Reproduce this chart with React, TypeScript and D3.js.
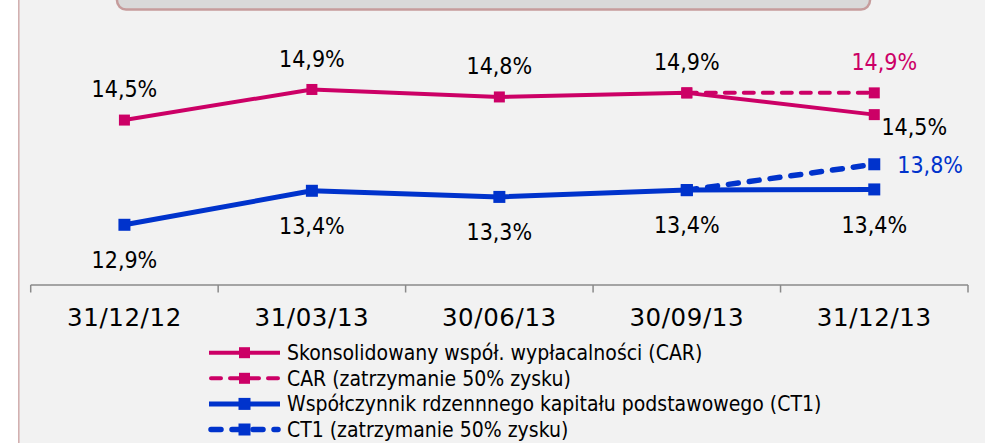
import React from 'react';
import * as d3 from 'd3';

const categories = ['31/12/12', '31/03/13', '30/06/13', '30/09/13', '31/12/13'];
const carValues: (number | null)[] = [14.46, 14.91, 14.8, 14.86, 14.54];
const carRetained: (number | null)[] = [null, null, null, 14.86, 14.86];
const ct1Values: (number | null)[] = [12.92, 13.42, 13.33, 13.43, 13.44];
const ct1Retained: (number | null)[] = [null, null, null, 13.43, 13.81];
const legendLabels = [
  'Skonsolidowany współ. wypłacalności (CAR)',
  'CAR (zatrzymanie 50% zysku)',
  'Współczynnik rdzennnego kapitału podstawowego (CT1)',
  'CT1 (zatrzymanie 50% zysku)',
];
const yDomain = [12, 16];

const W = 985;
const H = 443;
const PINK = '#cc0066';
const BLUE = '#0033cc';
const LABEL_FONT = "'DejaVu Sans Condensed', 'DejaVu Sans', sans-serif";
const AXIS_FONT = "'DejaVu Sans', sans-serif";

type Series = {
  values: (number | null)[];
  color: string;
  width: number;
  dash?: string;
  marker: number;
};

export default function App() {
  const x = d3.scaleBand<string>().domain(categories).range([30.7, 968]);
  const cx = (i: number) => (x(categories[i]) as number) + x.bandwidth() / 2;
  const y = d3.scaleLinear().domain(yDomain).range([287.35, 15.35]);
  const fmt = (v: number) => d3.format('.1f')(v).replace('.', ',') + '%';

  const series: Series[] = [
    { values: carValues, color: PINK, width: 4, marker: 11 },
    { values: carRetained, color: PINK, width: 4, dash: '10,9', marker: 11 },
    { values: ct1Values, color: BLUE, width: 5, marker: 12 },
    { values: ct1Retained, color: BLUE, width: 5.5, dash: '10,11', marker: 12 },
  ];

  const lineFor = (vals: (number | null)[]) =>
    d3
      .line<number | null>()
      .defined((d) => d != null)
      .x((_d, i) => cx(i))
      .y((d) => y(d as number))(vals) || '';

  const axisY = 285;
  const [r0, r1] = x.range();
  const tickXs = d3.range(categories.length + 1).map((i) => r0 + i * x.bandwidth());

  const legendY0 = 352.7;
  const legendStep = 25.6;
  const legendX0 = 209;
  const legendX1 = 280;

  const last = categories.length - 1;

  return (
    <svg
      width={W}
      height={H}
      style={{ position: 'absolute', left: 0, top: 0, display: 'block' }}
    >
      <rect x={0} y={0} width={W} height={H} fill="#ffffff" />
      <rect x={19} y={0} width={W - 19} height={H} fill="#f2f2f2" />
      <line x1={18.8} x2={18.8} y1={0} y2={H} stroke="#d2b0b0" strokeWidth={1.6} />

      {/* top title box (cropped) */}
      <rect x={117} y={-14} width={753} height={23.5} rx={9} fill="#d9d9d9" stroke="#c69c9c" strokeWidth={2.5} />

      {/* axis */}
      <line x1={r0} x2={r1} y1={axisY} y2={axisY} stroke="#8a8a8a" strokeWidth={1.5} />
      {tickXs.map((tx, i) => (
        <line key={i} x1={tx} x2={tx} y1={axisY} y2={axisY + 7.5} stroke="#8a8a8a" strokeWidth={1.5} />
      ))}
      {categories.map((c, i) => (
        <text
          key={c}
          x={cx(i)}
          y={317.5}
          dy="0.36em"
          textAnchor="middle"
          fontFamily={AXIS_FONT}
          fontSize={24.5}
          letterSpacing={0.6}
          fill="#000"
        >
          {c}
        </text>
      ))}

      {/* lines */}
      {series.map((s, si) => (
        <g key={si}>
          <path
            d={lineFor(s.values)}
            fill="none"
            stroke={s.color}
            strokeWidth={s.width}
            strokeDasharray={s.dash}
            strokeLinecap={s.dash ? 'round' : 'butt'}
            strokeLinejoin="round"
          />
          {s.values.map((v, i) =>
            v == null ? null : (
              <rect
                key={i}
                x={cx(i) - s.marker / 2}
                y={y(v) - s.marker / 2}
                width={s.marker}
                height={s.marker}
                fill={s.color}
              />
            )
          )}
        </g>
      ))}

      {/* data labels */}
      {carValues.map((v, i) =>
        v == null ? null : i === last ? (
          <text key={'c' + i} x={cx(i) + 40} y={y(v) + 12} dy="0.36em" textAnchor="middle"
            fontFamily={LABEL_FONT} fontSize={23} fill="#000">{fmt(v)}</text>
        ) : (
          <text key={'c' + i} x={cx(i)} y={y(v) - 31} dy="0.36em" textAnchor="middle"
            fontFamily={LABEL_FONT} fontSize={23} fill="#000">{fmt(v)}</text>
        )
      )}
      {carRetained[last] != null && (
        <text x={cx(last) + 10} y={y(carRetained[last] as number) - 31} dy="0.36em" textAnchor="middle"
          fontFamily={LABEL_FONT} fontSize={23} fill={PINK}>{fmt(carRetained[last] as number)}</text>
      )}
      {ct1Values.map((v, i) =>
        v == null ? null : (
          <text key={'b' + i} x={cx(i)} y={y(v) + 35} dy="0.36em" textAnchor="middle"
            fontFamily={LABEL_FONT} fontSize={23} fill="#000">{fmt(v)}</text>
        )
      )}
      {ct1Retained[last] != null && (
        <text x={cx(last) + 23} y={y(ct1Retained[last] as number)} dy="0.36em" textAnchor="start"
          fontFamily={LABEL_FONT} fontSize={23} fill={BLUE}>{fmt(ct1Retained[last] as number)}</text>
      )}

      {/* legend */}
      {legendLabels.map((lab, i) => {
        const s = series[i];
        const ly = legendY0 + i * legendStep;
        const mx = (legendX0 + legendX1) / 2;
        return (
          <g key={lab}>
            <line
              x1={legendX0 + (s.dash ? 2 : 0)}
              x2={legendX1 - (s.dash ? 2 : 0)}
              y1={ly}
              y2={ly}
              stroke={s.color}
              strokeWidth={s.width}
              strokeDasharray={s.dash}
              strokeLinecap={s.dash ? 'round' : 'butt'}
            />
            <rect x={mx - s.marker / 2} y={ly - s.marker / 2} width={s.marker} height={s.marker} fill={s.color} />
            <text x={287} y={ly} dy="0.36em" fontFamily={LABEL_FONT} fontSize={21} fill="#000">
              {lab}
            </text>
          </g>
        );
      })}
    </svg>
  );
}
